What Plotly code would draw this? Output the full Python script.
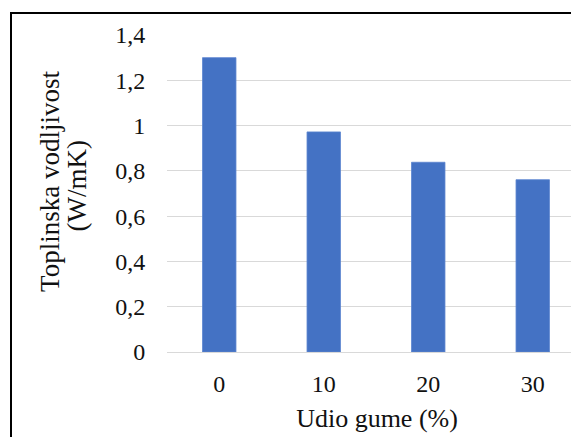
import plotly.graph_objects as go

categories = ["0", "10", "20", "30"]
values = [1.30, 0.972, 0.838, 0.761]
y_ticks = [0, 0.2, 0.4, 0.6, 0.8, 1.0, 1.2, 1.4]
y_tick_labels = ["0", "0,2", "0,4", "0,6", "0,8", "1", "1,2", "1,4"]
y_title_lines = ["Toplinska vodljivost", "(W/mK)"]
x_title = "Udio gume (%)"

# page body has an 8px margin; positions below are in figure coordinates
W, H = 579, 437
L, T = 159, 26.5
B = H - 343.7
PW = W - L
PH = H - T - B

fig = go.Figure(go.Bar(
    x=categories, y=values,
    marker=dict(color="#4472C4", line=dict(color="#5B84CF", width=0.8)),
    width=0.32,
))

font_family = "Liberation Serif, Times New Roman, serif"

fig.update_layout(
    width=W, height=H,
    margin=dict(l=L, r=0, t=T, b=B, pad=0),
    paper_bgcolor="white", plot_bgcolor="white",
    font=dict(family=font_family, color="#111111", size=24),
    showlegend=False,
    xaxis=dict(
        type="category",
        range=[-0.5, -0.5 + 420 / 104.5],
        showgrid=False, showline=False, zeroline=False,
        ticks="outside", ticklen=10, tickcolor="rgba(0,0,0,0)",
        tickfont=dict(size=24, family=font_family),
        title=dict(text=x_title, font=dict(size=26, family=font_family), standoff=13),
    ),
    yaxis=dict(
        range=[0, 1.4],
        tickvals=y_ticks, ticktext=y_tick_labels,
        showgrid=True, gridcolor="#D9D9D9", gridwidth=1.3,
        zeroline=True, zerolinecolor="#D9D9D9", zerolinewidth=1.3,
        showline=False,
        ticks="outside", ticklen=16, tickcolor="rgba(0,0,0,0)",
        tickfont=dict(size=24, family=font_family),
    ),
    annotations=[
        dict(text=y_title_lines[0], xref="paper", yref="paper",
             x=(42 - L) / PW, y=(343.7 - 173.5) / PH, xanchor="center", yanchor="middle",
             textangle=-90, showarrow=False, font=dict(size=27, family=font_family)),
        dict(text=y_title_lines[1], xref="paper", yref="paper",
             x=(69 - L) / PW, y=(343.7 - 178) / PH, xanchor="center", yanchor="middle",
             textangle=-90, showarrow=False, font=dict(size=27, family=font_family)),
    ],
    shapes=[dict(
        type="rect", xref="paper", yref="paper",
        x0=(3 - L) / PW, x1=1.2,
        y0=-0.5, y1=1 + (T - 4.5) / PH,
        line=dict(color="black", width=2), fillcolor="rgba(0,0,0,0)",
        layer="above",
    )],
)

fig.write_html("out.html")
